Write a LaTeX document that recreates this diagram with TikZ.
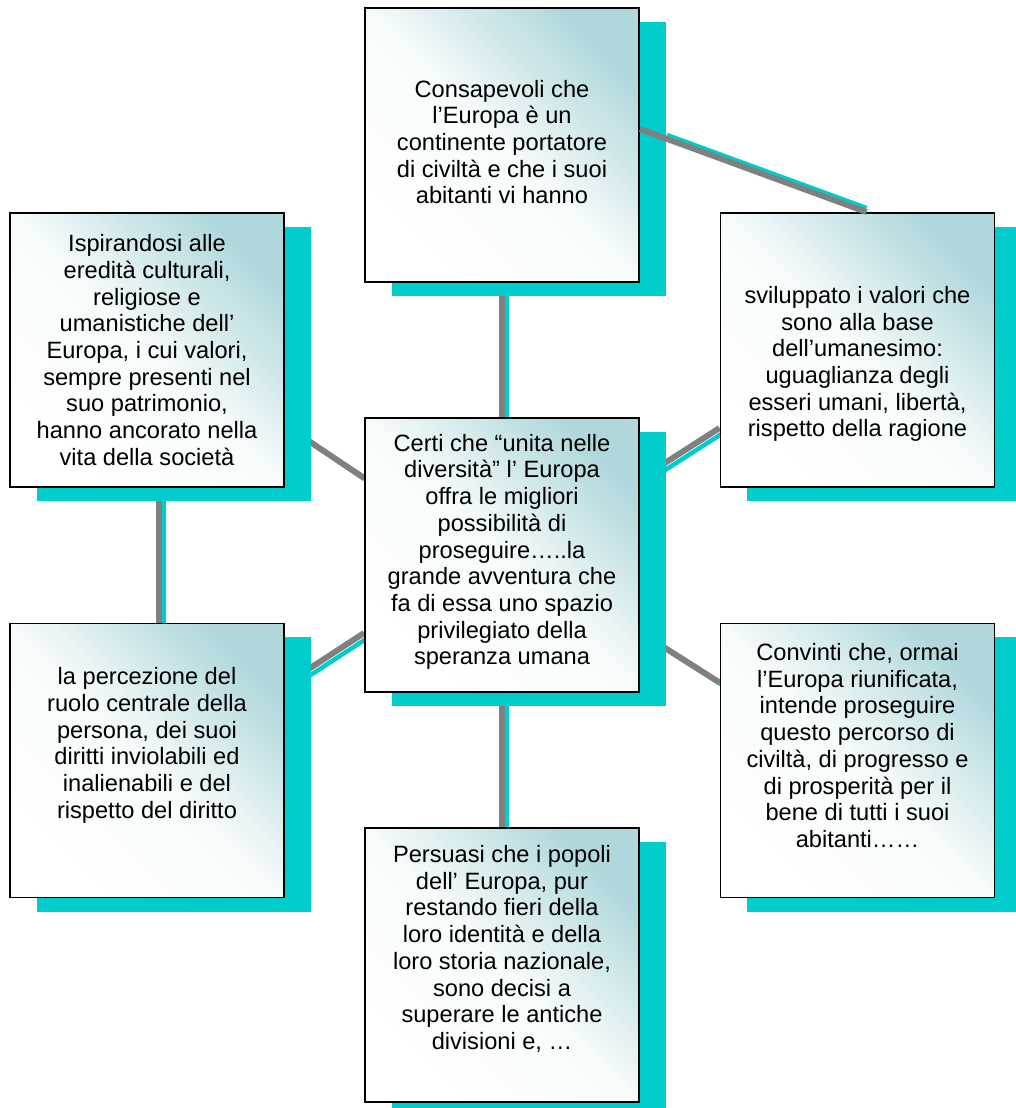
\documentclass[tikz,border=0pt]{standalone}
\usepackage{fontspec}
\setmainfont{Liberation Sans}
\usetikzlibrary{shadows,calc,backgrounds}
\definecolor{shadowteal}{RGB}{0,204,204}
\definecolor{boxteal}{RGB}{176,216,220}
\definecolor{linegray}{RGB}{128,128,128}

\begin{document}
\begin{tikzpicture}[x=0.025cm, y=-0.025cm,
    box/.style={rectangle, draw=black, line width=1.3pt, inner sep=0pt,
        minimum width=6.85cm, minimum height=6.85cm,
        top color=boxteal, bottom color=white, middle color=white!90!boxteal, shading angle=-45,
        drop shadow={shadow xshift=0.675cm, shadow yshift=-0.35cm, fill=shadowteal, opacity=1}},
    txt/.style={align=center, font=\fontsize{16.8}{19}\selectfont},
    link/.style={linegray, line width=4.2pt},
    linkshadow/.style={shadowteal, line width=3.2pt},
    ]
    \useasboundingbox (0,0) rectangle (1015,1108);

    %Boxes
    \node[box] at (502, 145) (btop) {};
    \node[box] at (147, 350) (bltop) {};
    \node[box] at (857.5, 350) (brtop) {};
    \node[box] at (502, 555) (bcenter) {};
    \node[box] at (147, 760.5) (blbot) {};
    \node[box] at (857.5, 760.5) (brbot) {};
    \node[box] at (502, 965) (bbot) {};

    %Texts
    \node[txt] at ($(btop.center)+(0,-3)$) (ttop) {Consapevoli che\\l’Europa è un\\continente portatore\\di civiltà e che i suoi\\abitanti vi hanno};
    \node[txt] at ($(bltop.center)+(0,0)$) (tltop) {Ispirandosi alle\\eredità culturali,\\religiose e\\umanistiche dell’\\Europa, i cui valori,\\sempre presenti nel\\suo patrimonio,\\hanno ancorato nella\\vita della società};
    \node[txt] at ($(brtop.center)+(0,14)$) (trtop) {sviluppato i valori che\\sono alla base\\dell’umanesimo:\\uguaglianza degli\\esseri umani, libertà,\\rispetto della ragione};
    \node[txt] at ($(bcenter.center)+(0,-3)$) (tcenter) {Certi che “unita nelle\\diversità” l’ Europa\\offra le migliori\\possibilità di\\proseguire…..la\\grande avventura che\\fa di essa uno spazio\\privilegiato della\\speranza umana};
    \node[txt] at ($(blbot.center)+(0,-15)$) (tlbot) {la percezione del\\ruolo centrale della\\persona, dei suoi\\diritti inviolabili ed\\inalienabili e del\\rispetto del diritto};
    \node[txt] at ($(brbot.center)+(0,-15)$) (trbot) {Convinti che, ormai\\l’Europa riunificata,\\intende proseguire\\questo percorso di\\civiltà, di progresso e\\di prosperità per il\\bene di tutti i suoi\\abitanti……};
    \node[txt] at ($(bbot.center)+(0,-16)$) (tbot) {Persuasi che i popoli\\dell’ Europa, pur\\restando fieri della\\loro identità e della\\loro storia nazionale,\\sono decisi a\\superare le antiche\\divisioni e, …};

    %Lines
    \begin{pgfonlayer}{background}
    \draw[linkshadow] ($(btop.south)+(5,4)$) -- ($(bcenter.north)+(5,4)$);
    \draw[linkshadow] ($(bltop.east)+(5,79)$) -- ($(bcenter.west)+(5,-73)$);
    \draw[linkshadow] ($(brtop.west)+(5,82)$) -- ($(bcenter.east)+(5,-72)$);
    \draw[linkshadow] ($(blbot.east)+(5,-72)$) -- ($(bcenter.west)+(5,82)$);
    \draw[linkshadow] ($(bcenter.east)+(5,81)$) -- ($(brbot.west)+(5,-74)$);
    \draw[linkshadow] ($(bcenter.south)+(5,4)$) -- ($(bbot.north)+(5,4)$);
    \draw[linkshadow] ($(bltop.south)+(17,4)$) -- ($(blbot.north)+(17,4)$);

    \draw[link] (btop.south) -- (bcenter.north);
    \draw[link] ($(bltop.east)+(0,75)$) -- ($(bcenter.west)+(0,-77)$);
    \draw[link] ($(brtop.west)+(0,78)$) -- ($(bcenter.east)+(0,-76)$);
    \draw[link] ($(blbot.east)+(0,-76)$) -- ($(bcenter.west)+(0,78)$);
    \draw[link] ($(bcenter.east)+(0,77)$) -- ($(brbot.west)+(0,-78)$);
    \draw[link] (bcenter.south) -- (bbot.north);
    \draw[link] ($(bltop.south)+(12,0)$) -- ($(blbot.north)+(12,0)$);
    \end{pgfonlayer}

    \draw[linkshadow] ($(btop.east)+(27,-10)$) -- ($(brtop.north)+(9,-4)$);
    \draw[link] ($(btop.east)+(0,-16)$) -- ($(brtop.north)+(9,0)$);
\end{tikzpicture}
\end{document}
